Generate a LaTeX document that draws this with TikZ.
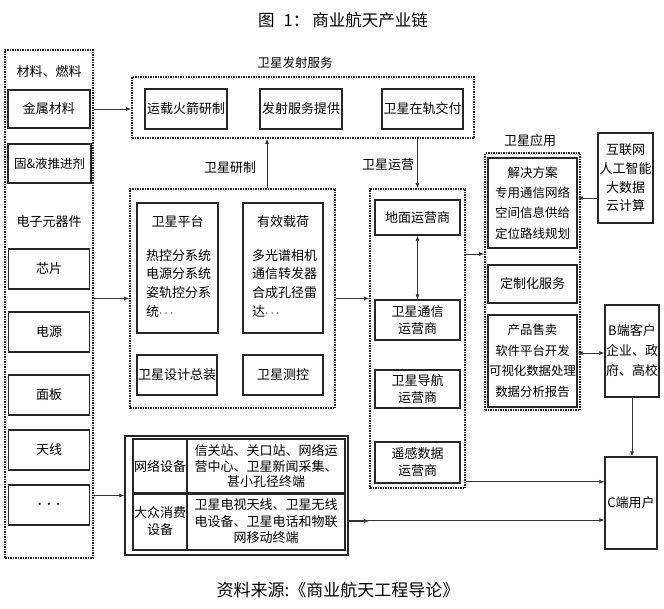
\documentclass[tikz,border=0pt]{standalone}
\usepackage{fontspec}
\setmainfont{Noto Sans CJK SC}
\usetikzlibrary{arrows.meta}
\begin{document}
\begin{tikzpicture}[x=1pt,y=-1pt,
  font=\fontsize{13}{17}\selectfont,
  box/.style={draw=black!85, line width=1.3pt, inner sep=0pt, align=center},
  dbox/.style={draw=black!85, line width=1.6pt, dash pattern=on 1.5pt off 1pt, inner sep=0pt},
  lbl/.style={inner sep=0pt, align=center},
  arr/.style={-{Latex[length=5pt,width=4pt]}, line width=0.8pt, draw=black!80},
  darr/.style={{Latex[length=5pt,width=4pt]}-{Latex[length=5pt,width=4pt]}, line width=0.8pt, draw=black!80}]
\useasboundingbox[fill=white] (0,0) rectangle (664,608);

% title and source
\node[lbl, font=\fontsize{16.5}{20}\selectfont] (title) at (343,20) {图\hspace{9pt}1：\hspace{3pt}商业航天产业链};
\node[lbl, font=\fontsize{17}{20}\selectfont] (source) at (338,590) {资料来源:《商业航天工程导论》};

% left column
\node[dbox, minimum width=88pt, minimum height=508pt] (leftcol) at (49,304) {};
\node[lbl] (matlbl) at (49,72) {材料、燃料};
\node[box, minimum width=82pt, minimum height=38pt] (metal) at (49,109) {金属材料};
\node[box, minimum width=83pt, minimum height=39pt, font=\fontsize{12.5}{15}\selectfont] (prop) at (49.5,163.5) {固\&液推进剂};
\node[lbl] (elelbl) at (49,222) {电子元器件};
\node[box, minimum width=81pt, minimum height=40pt] (chip) at (49,269) {芯片};
\node[box, minimum width=81pt, minimum height=40pt] (power) at (49,332) {电源};
\node[box, minimum width=81pt, minimum height=40pt] (panel) at (49,395) {面板};
\node[box, minimum width=81pt, minimum height=40pt] (antenna) at (49,450) {天线};
\node[box, minimum width=81pt, minimum height=40pt, font=\fontsize{20}{20}\selectfont] (more) at (49,505) {$\cdots$};

% launch services
\node[dbox, minimum width=342pt, minimum height=61pt] (launch) at (303,107.5) {};
\node[lbl, font=\fontsize{12.5}{15}\selectfont] (launchlbl) at (295,63) {卫星发射服务};
\node[box, minimum width=82pt, minimum height=40pt] (rocket) at (186,109) {运载火箭研制};
\node[box, minimum width=82pt, minimum height=40pt] (lsvc) at (301,109) {发射服务提供};
\node[box, minimum width=81pt, minimum height=40pt] (deliv) at (422.5,109) {卫星在轨交付};

% satellite R&D
\node[dbox, minimum width=205pt, minimum height=219pt] (rd) at (232.5,298.5) {};
\node[lbl] (rdlbl) at (230,168) {卫星研制};
\node[box, minimum width=81pt, minimum height=130pt] (plat) at (177.5,268) {};
\node[lbl] (platt) at (177.5,222) {卫星平台};
\node[lbl, align=left, anchor=north west, font=\fontsize{13}{18.7}\selectfont] (platb) at (146,249) {热控分系统\\电源分系统\\姿轨控分系\\统$\cdots$};
\node[box, minimum width=80pt, minimum height=130pt] (payl) at (283,268) {};
\node[lbl] (paylt) at (283,222) {有效载荷};
\node[lbl, align=left, anchor=north west, font=\fontsize{13}{18.7}\selectfont] (paylb) at (252,249) {多光谱相机\\通信转发器\\合成孔径雷\\达$\cdots$};
\node[box, minimum width=80pt, minimum height=40pt] (design) at (177,375) {卫星设计总装};
\node[box, minimum width=80pt, minimum height=40pt] (ttc) at (283,375) {卫星测控};

% operations
\node[dbox, minimum width=95pt, minimum height=299pt] (ops) at (417.5,338.5) {};
\node[lbl] (opslbl) at (388,165) {卫星运营};
\node[box, minimum width=85pt, minimum height=35pt] (ground) at (417.5,217.5) {地面运营商};
\node[box, minimum width=85pt, minimum height=40pt] (comm) at (417.5,320) {卫星通信\\运营商};
\node[box, minimum width=85pt, minimum height=38pt] (nav) at (417.5,389) {卫星导航\\运营商};
\node[box, minimum width=85pt, minimum height=41pt] (rs) at (417.5,462.5) {遥感数据\\运营商};

% applications
\node[dbox, minimum width=95pt, minimum height=257pt] (app) at (532.5,281.5) {};
\node[lbl] (applbl) at (530,141) {卫星应用};
\node[box, minimum width=89pt, minimum height=90pt, font=\fontsize{12.5}{20.3}\selectfont] (sol) at (532.5,203) {解决方案\\专用通信网络\\空间信息供给\\定位路线规划};
\node[box, minimum width=89pt, minimum height=38pt] (cust) at (532.5,284) {定制化服务};
\node[box, minimum width=89pt, minimum height=92pt, font=\fontsize{12.4}{20.5}\selectfont] (prod) at (532.5,361) {产品售卖\\软件平台开发\\可视化数据处理\\数据分析报告};

% right side
\node[box, minimum width=55pt, minimum height=90pt, font=\fontsize{13}{18.7}\selectfont] (inet) at (625.5,178) {互联网\\人工智能\\大数据\\云计算};
\node[box, minimum width=54pt, minimum height=92pt, font=\fontsize{13}{20}\selectfont] (B) at (632,351) {B端客户\\企业、政\\府、高校};
\node[box, minimum width=52pt, minimum height=92pt] (C) at (631,503) {C端用户};

% bottom table
\node[box, minimum width=223pt, minimum height=119pt] (tbl) at (236.5,495.5) {};
\node[box, minimum width=54pt, minimum height=54pt] (c11) at (160,466) {网络设备};
\node[box, minimum width=158pt, minimum height=54pt, font=\fontsize{13}{15.5}\selectfont] (c12) at (266,466) {信关站、关口站、网络运\\营中心、卫星新闻采集、\\甚小孔径终端};
\node[box, minimum width=54pt, minimum height=57pt, font=\fontsize{13}{17}\selectfont] (c21) at (160,521.5) {大众消费\\设备};
\node[box, minimum width=158pt, minimum height=57pt, font=\fontsize{13}{16.5}\selectfont] (c22) at (266,521.5) {卫星电视天线、卫星无线\\电设备、卫星电话和物联\\网移动终端};
\draw[line width=2.6pt, draw=black!85] (c11.south west) -- (c12.south east);

% connectors
\draw[arr] (leftcol.east |- metal.east) -- (launch.west |- metal.east);
\draw[arr] (leftcol.east |- rd.west) -- (rd.west);
\draw[arr] (leftcol.east |- tbl.west) -- (tbl.west);
\coordinate (rdup) at ([xshift=34.5pt]rd.north);
\draw[arr] (rdup) -- (rdup |- launch.south);
\draw[arr] (ops.north |- launch.south) -- (ops.north);
\draw[darr] (ground.south) -- (comm.north);
\draw[arr] (rd.east) -- (rd.east -| ops.west);
\coordinate (t1) at ([yshift=-25.5pt]tbl.east);
\draw[arr] (t1) -- (t1 -| ops.west);
\coordinate (o2) at ([yshift=7pt]ops.south east);
\draw[arr] (o2) -- (o2 -| C.west);
\coordinate (t2) at ([yshift=-24.5pt]tbl.east);
\draw[arr] (t2) -- (t2 -| C.west);
\coordinate (a1) at ([yshift=27.5pt]app.west);
\draw[arr] (a1 -| ops.east) -- (a1);
\coordinate (n1) at ([yshift=-20pt]inet.west);
\draw[arr] (n1) -- (n1 -| sol.east);
\coordinate (p1) at ([yshift=-2pt]B.west);
\draw[darr] (p1 -| prod.east) -- (p1);
\draw[arr] (B.south) -- (B.south |- C.north);
\end{tikzpicture}
\end{document}
